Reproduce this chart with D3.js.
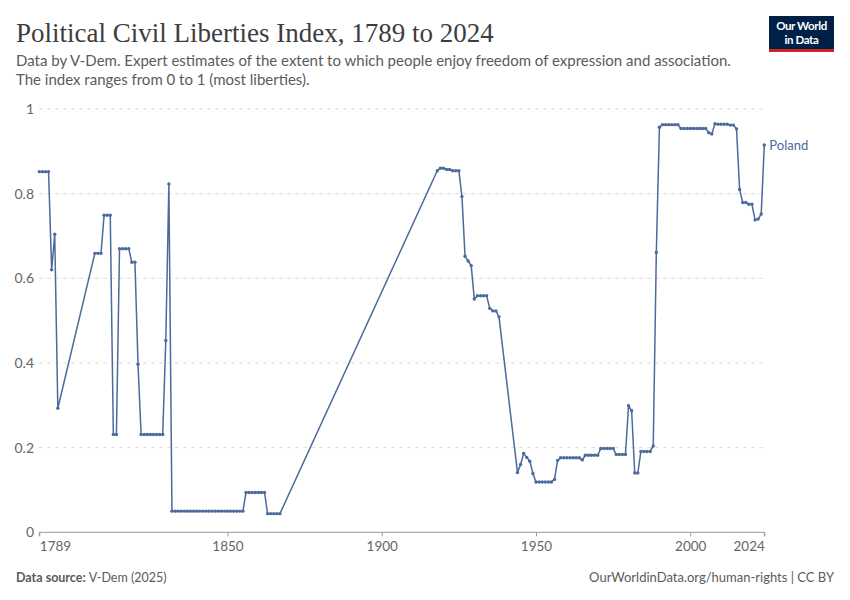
<!DOCTYPE html>
<html>
<head>
<meta charset="utf-8">
<script src="https://cdn.jsdelivr.net/npm/d3@7"></script>
<style>
  body { margin: 0; background: #fff; }
  svg { display: block; font-family: Lato, "Noto Sans", sans-serif; }
</style>
</head>
<body>
<svg id="chart" width="850" height="600"></svg>
<script>
// Poland, V-Dem political civil liberties index
const years = [
  1789, 1790, 1791, 1792, 1793, 1794, 1795,
  1807, 1808, 1809,
  1810, 1811, 1812, 1813, 1814, 1815, 1816, 1817, 1818, 1819,
  1820, 1821, 1822, 1823, 1824, 1825, 1826, 1827, 1828, 1829,
  1830, 1831, 1832, 1833, 1834, 1835, 1836, 1837, 1838, 1839,
  1840, 1841, 1842, 1843, 1844, 1845, 1846, 1847, 1848, 1849,
  1850, 1851, 1852, 1853, 1854, 1855, 1856, 1857, 1858, 1859,
  1860, 1861, 1862, 1863, 1864, 1865, 1866, 1867,
  1918, 1919,
  1920, 1921, 1922, 1923, 1924, 1925, 1926, 1927, 1928, 1929,
  1930, 1931, 1932, 1933, 1934, 1935, 1936, 1937, 1938,
  1944, 1945, 1946, 1947, 1948, 1949,
  1950, 1951, 1952, 1953, 1954, 1955, 1956, 1957, 1958, 1959,
  1960, 1961, 1962, 1963, 1964, 1965, 1966, 1967, 1968, 1969,
  1970, 1971, 1972, 1973, 1974, 1975, 1976, 1977, 1978, 1979,
  1980, 1981, 1982, 1983, 1984, 1985, 1986, 1987, 1988, 1989,
  1990, 1991, 1992, 1993, 1994, 1995, 1996, 1997, 1998, 1999,
  2000, 2001, 2002, 2003, 2004, 2005, 2006, 2007, 2008, 2009,
  2010, 2011, 2012, 2013, 2014, 2015, 2016, 2017, 2018, 2019,
  2020, 2021, 2022, 2023, 2024
];
const civlib = [
  0.852, 0.852, 0.852, 0.852, 0.620, 0.704, 0.293,
  0.659, 0.659, 0.659,
  0.749, 0.749, 0.749, 0.231, 0.231, 0.670, 0.670, 0.670, 0.670, 0.638,
  0.638, 0.397, 0.231, 0.231, 0.231, 0.231, 0.231, 0.231, 0.231, 0.231,
  0.453, 0.823, 0.050, 0.050, 0.050, 0.050, 0.050, 0.050, 0.050, 0.050,
  0.050, 0.050, 0.050, 0.050, 0.050, 0.050, 0.050, 0.050, 0.050, 0.050,
  0.050, 0.050, 0.050, 0.050, 0.050, 0.050, 0.094, 0.094, 0.094, 0.094,
  0.094, 0.094, 0.094, 0.044, 0.044, 0.044, 0.044, 0.044,
  0.854, 0.860,
  0.860, 0.857, 0.857, 0.854, 0.854, 0.854, 0.793, 0.652, 0.641, 0.630,
  0.551, 0.559, 0.559, 0.559, 0.559, 0.529, 0.523, 0.523, 0.509,
  0.141, 0.160, 0.186, 0.177, 0.168, 0.139,
  0.119, 0.119, 0.119, 0.119, 0.119, 0.119, 0.125, 0.170, 0.176, 0.176,
  0.176, 0.176, 0.176, 0.176, 0.176, 0.171, 0.182, 0.182, 0.182, 0.182,
  0.182, 0.198, 0.198, 0.198, 0.198, 0.198, 0.184, 0.184, 0.184, 0.184,
  0.299, 0.287, 0.140, 0.140, 0.191, 0.191, 0.191, 0.191, 0.204, 0.661,
  0.957, 0.963, 0.963, 0.963, 0.963, 0.963, 0.963, 0.954, 0.954, 0.954,
  0.954, 0.954, 0.954, 0.954, 0.954, 0.954, 0.944, 0.941, 0.965, 0.964,
  0.964, 0.964, 0.964, 0.962, 0.962, 0.953, 0.810, 0.779, 0.779, 0.775,
  0.775, 0.738, 0.740, 0.752, 0.915
];
const xTicks = [1789, 1850, 1900, 1950, 2000, 2024];
const yTicks = [0, 0.2, 0.4, 0.6, 0.8, 1];
const seriesName = "Poland";

const svg = d3.select("#chart");
const lineColor = "#4c6a9c";
const x = d3.scaleLinear().domain([1789, 2024]).range([39.3, 764.3]);
const y = d3.scaleLinear().domain([0, 1]).range([532.3, 109]);

// header
svg.append("text")
  .attr("x", 16).attr("y", 42)
  .attr("font-family", "'Liberation Serif', 'DejaVu Serif', serif")
  .attr("font-size", 27)
  .attr("fill", "#3d3d3d")
  .text("Political Civil Liberties Index, 1789 to 2024");

const sub = svg.append("text")
  .attr("font-size", 15)
  .attr("fill", "#5b5b5b");
sub.append("tspan").attr("x", 16).attr("y", 66)
  .text("Data by V-Dem. Expert estimates of the extent to which people enjoy freedom of expression and association.");
sub.append("tspan").attr("x", 16).attr("y", 85)
  .text("The index ranges from 0 to 1 (most liberties).");

// logo
const logo = svg.append("g");
logo.append("rect").attr("x", 769).attr("y", 16).attr("width", 65).attr("height", 36).attr("fill", "#002147");
logo.append("rect").attr("x", 769).attr("y", 49).attr("width", 65).attr("height", 3).attr("fill", "#ce261e");
logo.append("text").attr("x", 801.5).attr("y", 30).attr("text-anchor", "middle")
  .attr("fill", "#fff").attr("font-size", 11.5).attr("font-weight", 700).attr("letter-spacing", -0.4)
  .text("Our World");
logo.append("text").attr("x", 801.5).attr("y", 44).attr("text-anchor", "middle")
  .attr("fill", "#fff").attr("font-size", 11.5).attr("font-weight", 700).attr("letter-spacing", -0.4)
  .text("in Data");

// y grid + labels
const yAxis = svg.append("g");
yAxis.selectAll(".grid")
  .data(yTicks.filter(d => d > 0))
  .enter().append("line")
  .attr("x1", 39).attr("x2", 764)
  .attr("y1", d => y(d)).attr("y2", d => y(d))
  .attr("stroke", "#dddddd")
  .attr("stroke-dasharray", "4,4");
yAxis.selectAll(".ylab")
  .data(yTicks)
  .enter().append("text")
  .attr("x", 34).attr("y", d => y(d))
  .attr("dy", "0.35em")
  .attr("text-anchor", "end")
  .attr("font-size", 14)
  .attr("fill", "#666")
  .text(d => d === 0 || d === 1 ? d : d.toFixed(1));

// x axis
const xAxis = svg.append("g").attr("transform", `translate(0,${y(0)})`)
  .call(d3.axisBottom(x).tickValues(xTicks).tickFormat(d3.format("d")).tickSize(4).tickPadding(5));
xAxis.select(".domain").attr("stroke", "#999");
xAxis.selectAll(".tick line").attr("stroke", "#999");
xAxis.selectAll(".tick text")
  .attr("font-family", "Lato, sans-serif")
  .attr("font-size", 13.5)
  .attr("fill", "#666")
  .attr("text-anchor", (d, i) => i === 0 ? "start" : (i === xTicks.length - 1 ? "end" : "middle"));
xAxis.select(".domain").attr("d", `M${x(1789)},4V0H${x(2024)}V4`);

// series
const pts = years.map((yr, i) => ({ year: yr, value: civlib[i] }));
const line = d3.line().x(d => x(d.year)).y(d => y(d.value));
svg.append("path")
  .datum(pts)
  .attr("fill", "none")
  .attr("stroke", lineColor)
  .attr("stroke-width", 1.5)
  .attr("d", line);
svg.selectAll(".pt")
  .data(pts)
  .enter().append("circle")
  .attr("cx", d => x(d.year))
  .attr("cy", d => y(d.value))
  .attr("r", 1.7)
  .attr("fill", lineColor);

const last = pts[pts.length - 1];
svg.append("text")
  .attr("x", x(last.year) + 5).attr("y", y(last.value))
  .attr("dy", "0.35em")
  .attr("font-size", 13)
  .attr("fill", lineColor)
  .text(seriesName);

// footer
const foot = svg.append("text").attr("x", 16).attr("y", 582).attr("font-size", 12.5).attr("fill", "#5b5b5b");
foot.append("tspan").attr("font-weight", 700).text("Data source: ");
foot.append("tspan").text("V-Dem (2025)");
svg.append("text")
  .attr("x", 834).attr("y", 582)
  .attr("text-anchor", "end")
  .attr("font-size", 13)
  .attr("fill", "#5b5b5b")
  .text("OurWorldinData.org/human-rights | CC BY");
</script>
</body>
</html>
